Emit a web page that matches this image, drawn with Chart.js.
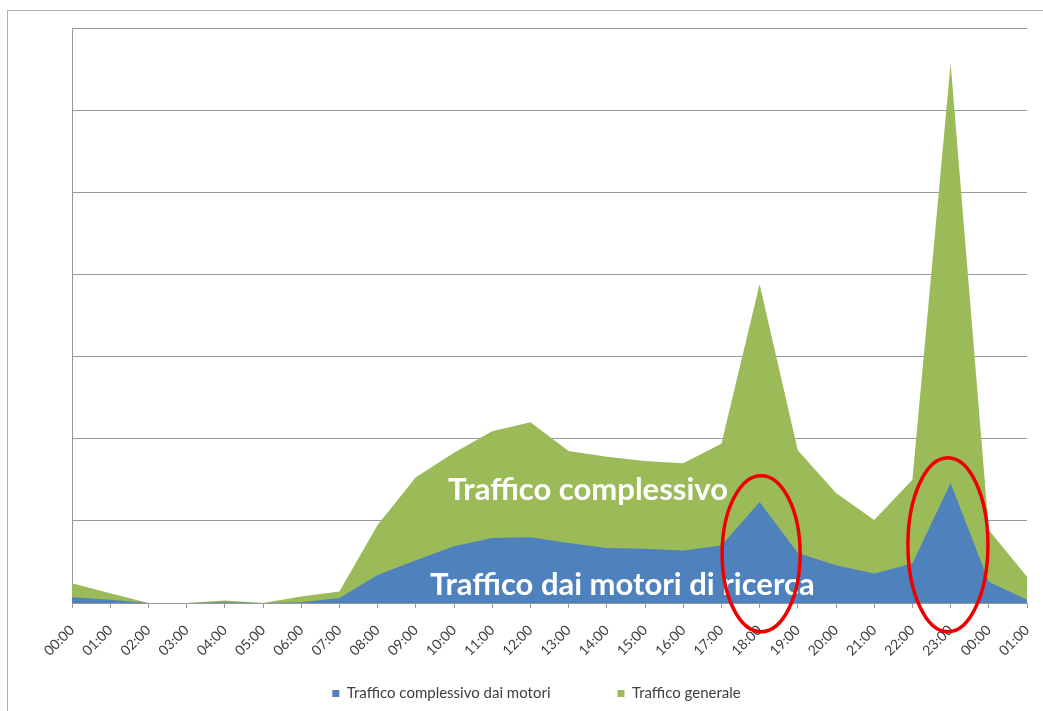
<!DOCTYPE html>
<html>
<head>
<meta charset="utf-8">
<script src="https://cdn.jsdelivr.net/npm/chart.js@4/dist/chart.umd.min.js"></script>
<style>
  html, body { margin: 0; padding: 0; background: #ffffff; }
  #frame { position: absolute; left: 7px; top: 10px; width: 1100px; height: 800px;
           border-left: 1px solid #b0b0b0; border-top: 1px solid #b0b0b0; }
  #wrap { position: absolute; left: 0; top: 0; width: 1043px; height: 711px; }
</style>
</head>
<body>
<div id="frame"></div>
<div id="wrap"><canvas id="c"></canvas></div>
<script>
// Categories (hours)
const hours = ['00:00','01:00','02:00','03:00','04:00','05:00','06:00','07:00','08:00','09:00',
               '10:00','11:00','12:00','13:00','14:00','15:00','16:00','17:00','18:00','19:00',
               '20:00','21:00','22:00','23:00','00:00','01:00'];

// Series names
const seriesSearch = 'Traffico complessivo dai motori';
const seriesTotal = 'Traffico generale';

// Values (in gridline units)
const searchTraffic = [0.07, 0.04, 0, 0, 0.01, 0, 0.01, 0.06, 0.34, 0.52, 0.69, 0.79, 0.80, 0.73,
                       0.67, 0.66, 0.64, 0.70, 1.23, 0.61, 0.46, 0.36, 0.48, 1.46, 0.26, 0.04];
const totalTraffic = [0.24, 0.12, 0, 0, 0.03, 0, 0.08, 0.14, 0.95, 1.53, 1.83, 2.09, 2.20, 1.85,
                      1.78, 1.73, 1.70, 1.94, 3.88, 1.86, 1.34, 1.01, 1.50, 6.57, 0.89, 0.32];

// Y axis range (no labels shown)
const yMin = 0, yMax = 7, yStep = 1;

// Annotations
const annoTexts = [
  { text: 'Traffico complessivo', idx: 9.84, val: 1.25 },
  { text: 'Traffico dai motori di ricerca', idx: 9.37, val: 0.10 }
];
const annoEllipses = [
  { idx: 18.04, val: 0.60, rx: 39, ry: 78 },
  { idx: 22.93, val: 0.71, rx: 40, ry: 87 }
];

const annotationPlugin = {
  id: 'annotations',
  afterDraw(chart) {
    const ctx = chart.ctx;
    const xs = chart.scales.x, ys = chart.scales.y;
    ctx.save();
    ctx.fillStyle = '#ffffff';
    ctx.font = 'bold 31px Lato';
    ctx.textAlign = 'left';
    ctx.textBaseline = 'alphabetic';
    annoTexts.forEach(a => {
      ctx.fillText(a.text, xs.getPixelForValue(a.idx), ys.getPixelForValue(a.val));
    });
    ctx.strokeStyle = '#ee0000';
    ctx.lineWidth = 3.5;
    annoEllipses.forEach(e => {
      ctx.beginPath();
      ctx.ellipse(xs.getPixelForValue(e.idx), ys.getPixelForValue(e.val), e.rx, e.ry, 0, 0, Math.PI * 2);
      ctx.stroke();
    });
    ctx.restore();
  }
};

new Chart(document.getElementById('c'), {
  type: 'line',
  data: {
    labels: hours,
    datasets: [
      { label: seriesSearch, data: searchTraffic, backgroundColor: '#4F81BD', borderColor: '#4F81BD',
        borderWidth: 0, fill: 'origin', pointRadius: 0, tension: 0 },
      { label: seriesTotal, data: totalTraffic, backgroundColor: '#9BBB59', borderColor: '#9BBB59',
        borderWidth: 0, fill: 'origin', pointRadius: 0, tension: 0 }
    ]
  },
  options: {
    responsive: true,
    maintainAspectRatio: false,
    animation: false,
    layout: { padding: { left: 30, right: 0, top: 28, bottom: 0 } },
    plugins: {
      tooltip: { enabled: false },
      legend: {
        position: 'bottom',
        labels: {
          boxWidth: 7, boxHeight: 7, padding: 67,
          color: '#404040',
          font: { family: 'Lato', size: 15 }
        }
      }
    },
    scales: {
      x: {
        offset: false,
        grid: { display: true, drawOnChartArea: false, drawTicks: true, tickLength: 5, color: '#999999' },
        border: { display: true, color: '#999999' },
        ticks: { autoSkip: false, maxRotation: 45, minRotation: 45, color: '#404040',
                 font: { family: 'Lato', size: 14 }, padding: 14 },
        afterFit(s) {
          s.height = 16;
          s.paddingRight = 0;
          s._computeLabelArea = function () { return undefined; };
        }
      },
      y: {
        min: yMin, max: yMax,
        grid: { color: '#999999', drawTicks: false },
        border: { display: true, color: '#999999' },
        ticks: { display: false, stepSize: yStep },
        afterFit(s) { s.width = 42; }
      },
      yRight: {
        position: 'right', display: true,
        grid: { display: false }, border: { display: false },
        ticks: { display: false },
        afterFit(s) { s.width = 16; }
      }
    }
  },
  plugins: [annotationPlugin]
});
</script>
</body>
</html>
